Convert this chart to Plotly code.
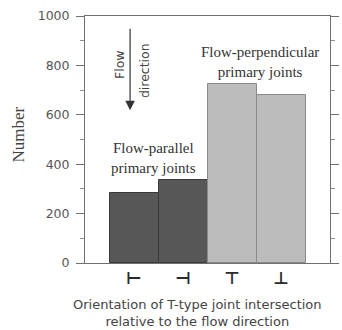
import plotly.graph_objects as go

# Orientation classes of T-type joint intersections and their counts
orientations = ["⊢", "⊣", "⊤", "⊥"]
counts = [285, 338, 725, 682]
joint_groups = ["Flow-parallel", "Flow-parallel", "Flow-perpendicular", "Flow-perpendicular"]

fill_by_group = {"Flow-parallel": "#575757", "Flow-perpendicular": "#bcbcbc"}
line_by_group = {"Flow-parallel": "#3a3a3a", "Flow-perpendicular": "#8a8a8a"}

positions = list(range(len(orientations)))

fig = go.Figure(
    go.Bar(
        x=positions,
        y=counts,
        width=1.0,
        marker=dict(
            color=[fill_by_group[g] for g in joint_groups],
            line=dict(color=[line_by_group[g] for g in joint_groups], width=1),
        ),
        showlegend=False,
    )
)

serif = "Liberation Serif, Times New Roman, serif"
sans = "DejaVu Sans, Arial, sans-serif"

fig.update_layout(
    width=342,
    height=330,
    margin=dict(l=85, r=3, t=16, b=67),
    paper_bgcolor="white",
    plot_bgcolor="white",
    bargap=0,
    xaxis=dict(
        range=[-1, 4],
        tickvals=positions,
        ticktext=[f"<b>{s}</b>" for s in orientations],
        ticks="",
        ticklabelstandoff=0,
        tickfont=dict(family=sans, size=17, color="#2a2a2a"),
        showline=True,
        linecolor="#707070",
        linewidth=1,
        mirror=True,
        showgrid=False,
        zeroline=False,
        fixedrange=True,
    ),
    yaxis=dict(
        range=[0, 1000],
        tickvals=[0, 200, 400, 600, 800, 1000],
        ticks="outside",
        ticklen=8,
        tickcolor="#707070",
        ticklabelstandoff=4,
        tickfont=dict(family=sans, size=12.5, color="#555555"),
        minor=dict(dtick=100, ticks="outside", ticklen=4, tickcolor="#909090"),
        showline=True,
        linecolor="#707070",
        linewidth=1,
        mirror="ticks",
        showgrid=False,
        zeroline=False,
    ),
    annotations=[
        # flow direction arrow with its label
        dict(
            x=-0.08, y=618, ax=-0.08, ay=954, axref="x", ayref="y", xref="x", yref="y",
            text="", showarrow=True, arrowhead=2, arrowsize=1.6, arrowwidth=1.2, arrowcolor="#333333",
        ),
        dict(x=-0.31, y=805, xref="x", yref="y", text="Flow", textangle=-90, showarrow=False,
             font=dict(family=sans, size=12.5, color="#444444")),
        dict(x=0.22, y=780, xref="x", yref="y", text="direction", textangle=-90, showarrow=False,
             font=dict(family=sans, size=12.5, color="#444444")),
        # group labels above the bars
        dict(x=0.4, y=424, xref="x", yref="y", text="Flow-parallel<br>primary joints", showarrow=False,
             font=dict(family=serif, size=15, color="#333333")),
        dict(x=2.57, y=815, xref="x", yref="y", text="Flow-perpendicular<br>primary joints", showarrow=False,
             font=dict(family=serif, size=15, color="#333333")),
    ],
)

# Axis titles placed as paper-anchored text
fig.add_annotation(
    x=(202 - 85) / (339 - 85), y=-(312.5 - 262.7) / (262.7 - 16),
    xref="paper", yref="paper", xanchor="center", yanchor="middle",
    text="Orientation of T-type joint intersection<br>relative to the flow direction",
    showarrow=False, font=dict(family=sans, size=13, color="#444444"),
)
fig.add_annotation(
    x=-(85 - 16) / (339 - 85), y=(262.7 - 134) / (262.7 - 16),
    xref="paper", yref="paper", xanchor="center", yanchor="middle",
    text="Number", textangle=-90,
    showarrow=False, font=dict(family=serif, size=17, color="#444444"),
)

fig.write_html("out.html")
